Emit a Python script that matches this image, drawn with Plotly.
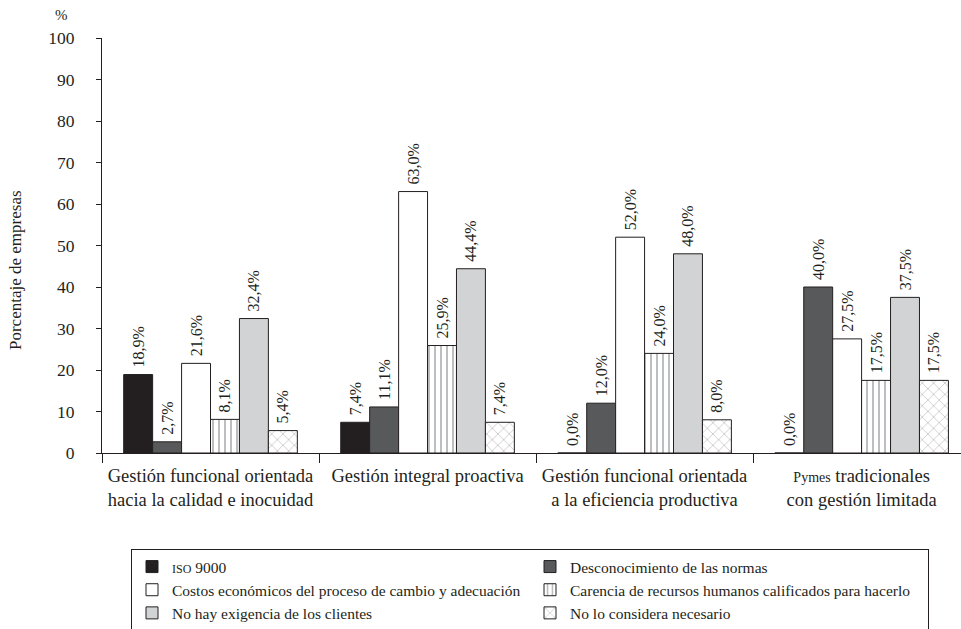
import plotly.graph_objects as go

categories = [
    "Gestión funcional orientada<br>hacia la calidad e inocuidad",
    "Gestión integral proactiva<br> ",
    "Gestión funcional orientada<br>a la eficiencia productiva",
    "<span style='font-size:14px'>Pymes</span> tradicionales<br>con gestión limitada",
]

series_names = [
    "<span style='font-size:12px'>ISO</span> 9000",
    "Desconocimiento de las normas",
    "Costos económicos del proceso de cambio y adecuación",
    "Carencia de recursos humanos calificados para hacerlo",
    "No hay exigencia de los clientes",
    "No lo considera necesario",
]

iso_9000 = [18.9, 7.4, 0.0, 0.0]
desconocimiento = [2.7, 11.1, 12.0, 40.0]
costos = [21.6, 63.0, 52.0, 27.5]
carencia = [8.1, 25.9, 24.0, 17.5]
no_exigencia = [32.4, 44.4, 48.0, 37.5]
no_necesario = [5.4, 7.4, 8.0, 17.5]

y_ticks = [0, 10, 20, 30, 40, 50, 60, 70, 80, 90, 100]

series_values = [iso_9000, desconocimiento, costos, carencia, no_exigencia, no_necesario]

styles = [
    dict(color="#231f20"),
    dict(color="#58595b"),
    dict(color="#ffffff"),
    dict(color="#ffffff", pattern=dict(shape="|", size=6, solidity=0.3, fgcolor="#6d6e70", bgcolor="#ffffff")),
    dict(color="#d1d3d4"),
    dict(color="#ffffff", pattern=dict(shape="x", size=8, solidity=0.12, fgcolor="#444444", bgcolor="#ffffff")),
]

FONT = "Liberation Serif"

fig = go.Figure()
for name, vals, st in zip(series_names, series_values, styles):
    fig.add_trace(go.Bar(
        name=name,
        x=categories,
        y=vals,
        text=["\u00a0" + f"{v:.1f}%".replace(".", ",") for v in vals],
        textposition="outside",
        textangle=-90,
        constraintext="none",
        textfont=dict(family=FONT, size=16, color="#231f20"),
        cliponaxis=False,
        marker=dict(**st, line=dict(color="#231f20", width=1)),
    ))

fig.update_layout(
    width=961,
    height=629,
    barmode="group",
    bargap=0.2,
    bargroupgap=0,
    plot_bgcolor="white",
    paper_bgcolor="white",
    font=dict(family=FONT, size=16, color="#231f20"),
    margin=dict(l=102, r=0, t=38, b=176),
    showlegend=True,
    legend=dict(
        orientation="h",
        xref="container", yref="container",
        x=131 / 961, xanchor="left",
        y=1 - 549 / 629, yanchor="top",
        entrywidth=353,
        entrywidthmode="pixels",
        bordercolor="#231f20",
        borderwidth=1,
        font=dict(family=FONT, size=15.5, color="#231f20"),
        traceorder="normal",
        itemwidth=30,
        tracegroupgap=0,
    ),
    xaxis=dict(
        range=[-0.5, 3.458],
        showline=True,
        linecolor="#231f20",
        linewidth=1,
        ticks="outside",
        ticklen=9,
        tickcolor="#231f20",
        tickson="boundaries",
        ticklabelstandoff=6,
        tickfont=dict(family=FONT, size=18.5, color="#231f20"),
        showgrid=False,
        zeroline=False,
    ),
    yaxis=dict(
        range=[0, 100],
        tickvals=y_ticks,
        showline=True,
        linecolor="#231f20",
        linewidth=1,
        ticks="outside",
        ticklen=5,
        tickcolor="#231f20",
        ticklabelstandoff=18,
        tickfont=dict(family=FONT, size=17.5, color="#231f20"),
        showgrid=False,
        zeroline=False,
    ),
    annotations=[
        dict(text="Porcentaje de empresas", xref="paper", yref="paper",
             x=(15 - 102) / 859, y=(453 - 270) / 415, textangle=-90,
             showarrow=False, xanchor="center", yanchor="middle",
             font=dict(family=FONT, size=17, color="#231f20")),
        dict(text="%", xref="paper", yref="paper",
             x=(61 - 102) / 859, y=(453 - 15) / 415,
             showarrow=False, xanchor="center", yanchor="middle",
             font=dict(family=FONT, size=15, color="#231f20")),
    ],
)

fig.write_html(
    "out.html",
    config={"displayModeBar": False},
    post_script="document.body.style.margin='0';document.body.style.overflow='hidden';",
)
